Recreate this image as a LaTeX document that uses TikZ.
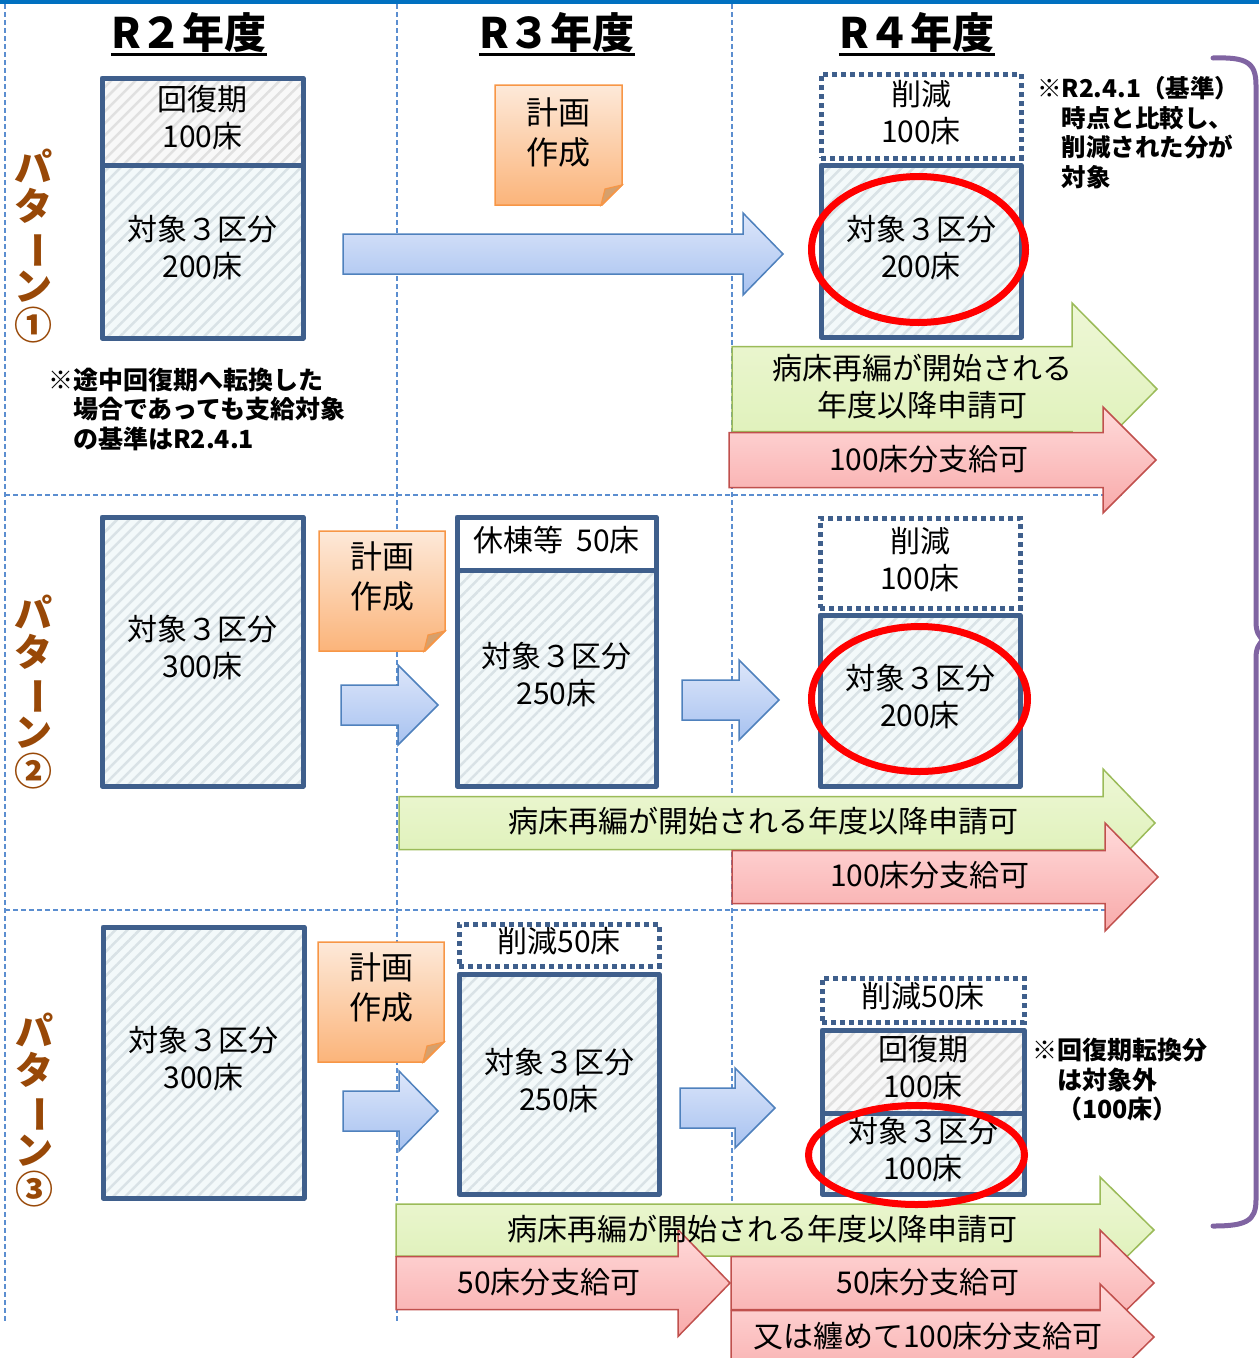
\documentclass[tikz,border=0pt]{standalone}
\usepackage{fontspec}
\usepackage{graphicx}
\setmainfont{Noto Sans CJK JP}
\usetikzlibrary{patterns.meta,shapes.geometric}
\definecolor{boxblue}{HTML}{3F5F8C}
\definecolor{gridblue}{HTML}{5B8ED0}
\definecolor{topblue}{HTML}{0070C0}
\definecolor{cyanbase}{HTML}{F3F9FA}
\definecolor{cyanstripe}{HTML}{D9E2E6}
\definecolor{graybase}{HTML}{F8F8F8}
\definecolor{graystripe}{HTML}{E0E0E0}
\definecolor{arrowblue}{HTML}{4F81BD}
\definecolor{bluetop}{HTML}{DDE6FA}
\definecolor{bluebot}{HTML}{A7C2F0}
\definecolor{greenline}{HTML}{9BBB59}
\definecolor{greentop}{HTML}{EEF7D6}
\definecolor{greenbot}{HTML}{DCF0B4}
\definecolor{redline}{HTML}{C0504D}
\definecolor{redtop}{HTML}{FFDADA}
\definecolor{redbot}{HTML}{F8AAAA}
\definecolor{noteline}{HTML}{F79646}
\definecolor{notetop}{HTML}{FDE9D9}
\definecolor{notebot}{HTML}{FBB47A}
\definecolor{notefold}{HTML}{D6A06C}
\definecolor{patbrown}{HTML}{984807}
\definecolor{bracepurple}{HTML}{8064A2}
\newcommand\bx{\fontsize{30}{37}\selectfont}
\newcommand\blockarrow[7]{\draw[#1] (#2,{#5-#6}) -- (#3,{#5-#6}) -- (#3,{#5-#7}) -- (#4,#5) -- (#3,{#5+#7}) -- (#3,{#5+#6}) -- (#2,{#5+#6}) -- cycle;}
\newcommand\plannote[4]{\draw[notestyle] (#1,#2) -- (#3,#2) -- (#3,{#4-20}) -- ({#3-20},#4) -- (#1,#4) -- cycle;
\draw[foldstyle] (#3,{#4-20}) -- ({#3-17},{#4-16}) -- ({#3-21},#4) -- cycle;}
\begin{document}
\begin{tikzpicture}[x=1pt,y=-1pt,
  grid/.style={draw=gridblue, line width=1.5pt, dash pattern=on 5pt off 3pt},
  title/.style={font=\fontsize{42}{48}\selectfont\bfseries, inner sep=0pt},
  boxtext/.style={align=center, font=\bx, inner sep=0pt, execute at end node={\rule[-10pt]{0pt}{0pt}}},
  tbox/.style={boxtext, draw=boxblue, line width=5pt, line join=round, preaction={fill=cyanbase}, pattern={Lines[angle=45,distance=8.5pt,line width=2.5pt]}, pattern color=cyanstripe},
  gbox/.style={boxtext, draw=boxblue, line width=5pt, line join=round, preaction={fill=graybase}, pattern={Lines[angle=45,distance=8.5pt,line width=2.5pt]}, pattern color=graystripe},
  wbox/.style={boxtext, draw=boxblue, line width=5pt, line join=round, fill=white},
  dbox/.style={boxtext, draw=boxblue, line width=5pt, dash pattern=on 5pt off 4pt, fill=white},
  barrow/.style={draw=arrowblue, line width=1.5pt, top color=bluetop, bottom color=bluebot},
  garrow/.style={draw=greenline, line width=1.5pt, top color=greentop, bottom color=greenbot},
  rarrow/.style={draw=redline, line width=1.5pt, top color=redtop, bottom color=redbot},
  notestyle/.style={draw=noteline, line width=1.5pt, top color=notetop, bottom color=notebot},
  foldstyle/.style={draw=noteline, line width=1.2pt, fill=notefold},
  notetext/.style={font=\fontsize{32}{40}\selectfont, align=center, inner sep=0pt},
  atext/.style={font=\bx, align=center, inner sep=0pt},
  pat/.style={font=\fontsize{38}{39}\selectfont\bfseries, text=patbrown, align=center, inner sep=0pt},
  remark/.style={font=\fontsize{25}{29.5}\selectfont\bfseries, align=left, inner sep=0pt, anchor=west},
  ring/.style={ellipse, draw=red, line width=7pt, inner sep=0pt},
  brace/.style={draw=bracepurple, line width=5pt, line cap=round}
]
\useasboundingbox (0,0) rectangle (1259,1358);
% frame and grid
\draw[draw=topblue, line width=4pt] (0,2) -- (1259,2);
\draw[grid] (5,4) -- (5,1322);
\draw[grid] (397,4) -- (397,1322);
\draw[grid] (732,4) -- (732,1322);
\draw[grid] (5,495) -- (1122,495);
\draw[grid] (5,910) -- (1122,910);
% titles
\node[title] (t2) at (189,33) {R２年度};
\node[title] (t3) at (557,33) {R３年度};
\node[title] (t4) at (917,33) {R４年度};
\foreach \t in {t2,t3,t4}{\draw[line width=3pt] ([yshift=-6pt]\t.base west) -- ([yshift=-6pt]\t.base east);}
% pattern labels
\node[pat] (pat1) at (33,246) {パ\\タ\\\rotatebox[origin=c]{-90}{ー}\\ン\\①};
\node[pat] (pat2) at (33,692) {パ\\タ\\\rotatebox[origin=c]{-90}{ー}\\ン\\②};
\node[pat] (pat3) at (35,1110) {パ\\タ\\\rotatebox[origin=c]{-90}{ー}\\ン\\③};
% ---------- row 1
\node[gbox, minimum width=201pt, minimum height=87pt] (a1) at (202.5,121.5) {回復期\\100床};
\node[tbox, minimum width=201pt, minimum height=173pt] (b1) at (202.5,251.5) {対象３区分\\200床};
\node[remark] (rem1) at (48,409) {※途中回復期へ転換した\\\hspace*{1em}場合であっても支給対象\\\hspace*{1em}の基準はR2.4.1};
\plannote{495}{85}{622}{205}
\node[notetext] (plan1) at (558,132) {計画\\作成};
\blockarrow{barrow}{343}{743}{783}{254}{20}{41}
\node[dbox, minimum width=200pt, minimum height=84pt] (c1) at (921,116) {削減\\100床};
\node[tbox, minimum width=200pt, minimum height=172pt] (d1) at (921,251) {対象３区分\\200床};
\node[remark, font=\fontsize{24.5}{29.5}\selectfont\bfseries] (rem2) at (1037,132.5) {※R2.4.1（基準）\\\hspace*{1em}時点と比較し、\\\hspace*{1em}削減された分が\\\hspace*{1em}対象};
\blockarrow{garrow}{732}{1072}{1157}{389}{42.5}{86}
\blockarrow{rarrow}{729}{1103}{1156}{460}{27.5}{53}
\node[atext] (g1t) at (922,387) {病床再編が開始される\\年度以降申請可};
\node[atext] (r1t) at (929,459) {100床分支給可};
% ---------- row 2
\node[tbox, minimum width=201pt, minimum height=269pt] (b2) at (202.5,651.5) {対象３区分\\300床};
\plannote{319}{531}{445}{651}
\node[notetext] (plan2) at (382,576.5) {計画\\作成};
\blockarrow{barrow}{341}{398}{438}{705}{20}{40}
\node[wbox, minimum width=199pt, minimum height=53pt] (e2) at (556.5,543.5) {休棟等\hspace{0.45em}50床};
\node[tbox, minimum width=199pt, minimum height=216pt] (f2) at (556.5,678) {対象３区分\\250床};
\blockarrow{barrow}{682}{739}{779}{700}{20}{40}
\node[dbox, minimum width=200pt, minimum height=90pt] (c2) at (920,563) {削減\\100床};
\node[tbox, minimum width=200pt, minimum height=171pt] (d2) at (920,700.5) {対象３区分\\200床};
\blockarrow{garrow}{399}{1103}{1155}{823}{26.5}{54}
\blockarrow{rarrow}{732}{1105}{1158}{877}{26.5}{54}
\node[atext] (g2t) at (763,821) {病床再編が開始される年度以降申請可};
\node[atext] (r2t) at (930,875) {100床分支給可};
% ---------- row 3
\node[tbox, minimum width=201pt, minimum height=271pt] (b3) at (203.5,1062.5) {対象３区分\\300床};
\plannote{318}{942}{444}{1062}
\node[notetext] (plan3) at (381,987.5) {計画\\作成};
\blockarrow{barrow}{343}{399}{438}{1111}{20}{40}
\node[dbox, minimum width=200pt, minimum height=42pt] (e3) at (559,945) {削減50床};
\node[tbox, minimum width=200pt, minimum height=220pt] (f3) at (559,1084) {対象３区分\\250床};
\blockarrow{barrow}{680}{735}{775}{1108}{20}{40}
\node[dbox, minimum width=202pt, minimum height=44pt] (c3) at (923,1000) {削減50床};
\node[gbox, minimum width=202pt, minimum height=83pt] (h3) at (923,1071.5) {回復期\\100床};
\node[tbox, minimum width=202pt, minimum height=81pt] (d3) at (923,1153.5) {対象３区分\\100床};
\node[remark] (rem3) at (1032,1080) {※回復期転換分\\\hspace*{1em}は対象外\\\hspace*{1em}（100床）};
\blockarrow{garrow}{396}{1100}{1154}{1230}{26}{53}
\blockarrow{rarrow}{396}{678}{730}{1283}{26.5}{53.5}
\blockarrow{rarrow}{731}{1100}{1154}{1283}{26.5}{53}
\blockarrow{rarrow}{731}{1100}{1154}{1337}{26.5}{53}
\node[atext] (g3t) at (762,1229) {病床再編が開始される年度以降申請可};
\node[atext] (r3at) at (549,1282) {50床分支給可};
\node[atext] (r3bt) at (928,1282) {50床分支給可};
\node[atext] (r3ct) at (928,1336) {又は纏めて100床分支給可};
% ellipses
\node[ring, minimum width=214pt, minimum height=146pt] (o1) at (918.5,249.5) {};
\node[ring, minimum width=216pt, minimum height=145pt] (o2) at (919.5,699) {};
\node[ring, minimum width=216pt, minimum height=99pt] (o3) at (916.5,1155) {};
% brace
\draw[brace] (1213,58) .. controls (1246,57) and (1256,62) .. (1256,85) -- (1256,622) .. controls (1256,632) and (1259,636) .. (1263,640) .. controls (1259,644) and (1256,648) .. (1256,658) -- (1256,1200) .. controls (1256,1221) and (1246,1226) .. (1213,1226);
\end{tikzpicture}
\end{document}
